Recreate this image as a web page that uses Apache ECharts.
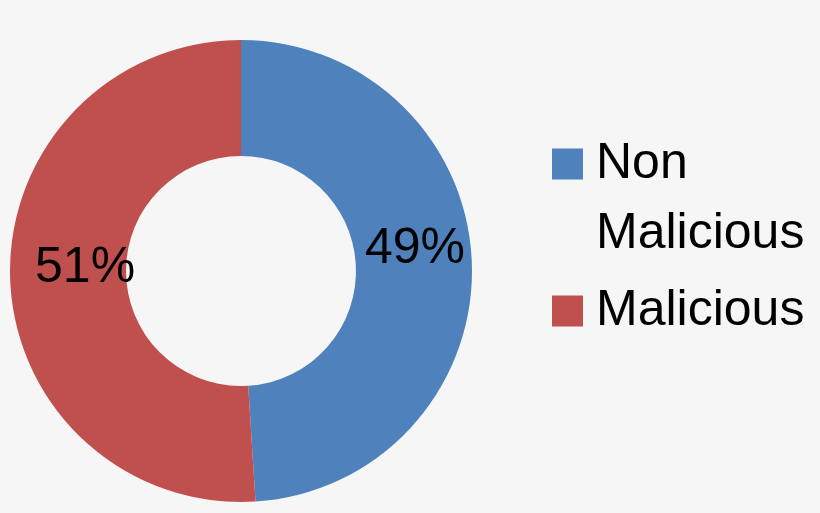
<!DOCTYPE html>
<html>
<head>
<meta charset="utf-8">
<script src="https://cdn.jsdelivr.net/npm/echarts@6/dist/echarts.min.js"></script>
<style>
html,body{margin:0;padding:0;background:#f6f6f6;}
#chart{width:820px;height:513px;}
</style>
</head>
<body>
<div id="chart"></div>
<script>
const categories = ['Non Malicious', 'Malicious'];
const values = [49, 51];
const colors = ['#4F81BD', '#C0504D'];
const legendLabels = [' \nNon\nMalicious', 'Malicious'];

const chart = echarts.init(document.getElementById('chart'));
const FONT = '"Liberation Sans", Arial, sans-serif';

chart.setOption({
  backgroundColor: '#f6f6f6',
  animation: false,
  legend: {
    orient: 'vertical',
    left: 547,
    top: 54,
    itemWidth: 31,
    itemHeight: 31,
    itemGap: 7,
    icon: 'rect',
    selectedMode: false,
    formatter: function (name) { return legendLabels[categories.indexOf(name)]; },
    textStyle: { fontFamily: FONT, fontSize: 50, color: '#000', lineHeight: 70, padding: [0, 0, 0, 8] },
    data: categories
  },
  series: [{
    type: 'pie',
    radius: [115, 231],
    center: [241, 271],
    startAngle: 90,
    clockwise: true,
    silent: true,
    label: {
      show: true,
      position: 'inside',
      formatter: '{d}%',
      fontFamily: FONT,
      fontSize: 50,
      color: '#000'
    },
    labelLine: { show: false },
    data: categories.map((c, i) => ({
      name: c,
      value: values[i],
      itemStyle: { color: colors[i] },
      label: { offset: i === 0 ? [-2, -16] : [20, -8] }
    }))
  }]
});
</script>
</body>
</html>
